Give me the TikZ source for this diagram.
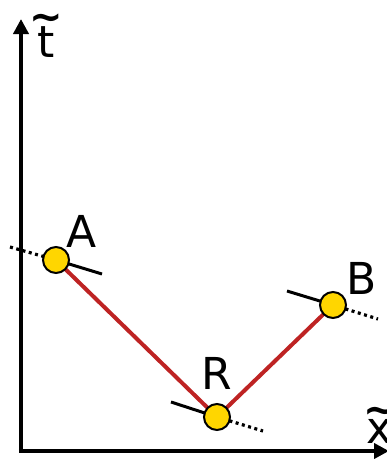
\documentclass[tikz,border=0pt]{standalone}
\usepackage{fontspec}
\setmainfont{DejaVu Sans}
\usetikzlibrary{arrows.meta}
\newcommand\tildeover[2]{\ooalign{#1\cr\hidewidth\raisebox{#2}{\fontsize{40}{40}\selectfont\bfseries\char"7E}\hidewidth\cr}}
\begin{document}
\begin{tikzpicture}[x=1pt,y=-1pt,
  axis/.style={line width=4.5pt,-{Triangle[length=15pt,width=15pt]}},
  pathline/.style={line width=4pt,draw={rgb,255:red,190;green,35;blue,35}},
  tangent/.style={line width=3pt},
  dottan/.style={line width=3.2pt,dash pattern=on 3pt off 3.5pt},
  pt/.style={circle,draw=black,line width=2pt,fill={rgb,255:red,255;green,214;blue,0},minimum size=26pt,inner sep=0pt},
  lab/.style={font=\fontsize{44}{44}\selectfont,inner sep=0pt}]
\useasboundingbox (0,0) rectangle (387,459);
\coordinate (O) at (21,451);
\coordinate (T) at (21,19);
\coordinate (X) at (389,451);
\draw[axis] (O) -- (T);
\draw[axis] ([xshift=-2.25pt]O) -- (X);
\node[lab,anchor=base] (tl) at (46,57) {\tildeover{t}{27pt}};
\node[lab,anchor=base] (xl) at (380,443) {\tildeover{x}{19.5pt}};
% points
\coordinate (Apos) at (56,260);
\coordinate (Rpos) at (217,417);
\coordinate (Bpos) at (333,305);
\coordinate (Al) at (10,247);
\coordinate (Ar) at (102,274);
\coordinate (Rl) at (171,402);
\coordinate (Rr) at (263,431);
\coordinate (Bl) at (287,291);
\coordinate (Br) at (378,319);
\draw[pathline] (Apos) -- (Rpos) -- (Bpos);
\draw[dottan] (Al) -- (Apos);
\draw[tangent] (Apos) -- (Ar);
\draw[tangent] (Rl) -- (Rpos);
\draw[dottan] (Rpos) -- (Rr);
\draw[tangent] (Bl) -- (Bpos);
\draw[dottan] (Bpos) -- (Br);
\node[pt] (A) at (Apos) {};
\node[pt] (R) at (Rpos) {};
\node[pt] (B) at (Bpos) {};
\node[lab] (Alab) at (82,231) {A};
\node[lab] (Rlab) at (217,373) {R};
\node[lab] (Blab) at (362,278) {B};
\end{tikzpicture}
\end{document}
